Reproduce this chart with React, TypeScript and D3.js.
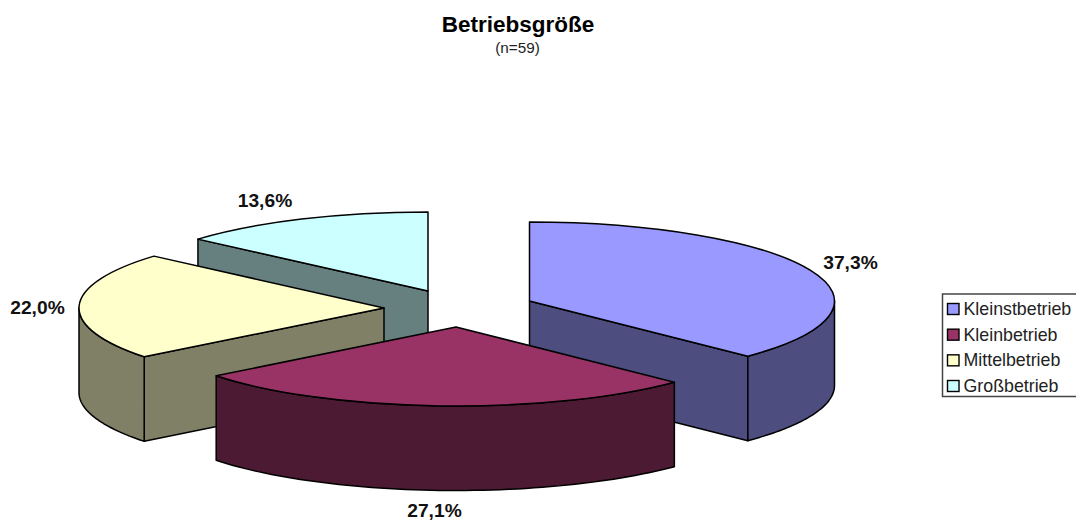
import React from "react";
import * as d3 from "d3";

const width = 1076;
const height = 523;

const categories = ["Kleinstbetrieb", "Kleinbetrieb", "Mittelbetrieb", "Großbetrieb"];
const shares = [37.3, 27.1, 22.0, 13.6];
const topColors = ["#9999FF", "#993366", "#FFFFCC", "#CCFFFF"];
const wallColors = ["#4D4D80", "#4D1A33", "#808066", "#668080"];

// exploded centre of every slice, same order as categories
const centerX = [529.5, 456, 384, 428];
const centerY = [301, 327, 308, 291];
const labelX = [850.5, 434.5, 37.5, 265];
const labelY = [269, 517, 314, 207];
const drawOrder = [3, 0, 2, 1]; // back to front

const rx = 305;
const ry = 79;
const depth = 84.5;
const font = "'Liberation Sans', Arial, sans-serif";

const pie = d3.pie<number>().sort(null).value((d) => d);
const arcs = pie(shares);
const arcPath = d3.arc<d3.PieArcDatum<number>>().innerRadius(0).outerRadius(rx);

const px = (i: number, a: number) => centerX[i] + rx * Math.sin(a);
const py = (i: number, a: number) => centerY[i] - ry * Math.cos(a);

const line = d3.line();

// curved outer wall, only the part that faces the viewer
const outerWall = (i: number) => {
  const a0 = Math.max(arcs[i].startAngle, Math.PI / 2);
  const a1 = Math.min(arcs[i].endAngle, (Math.PI * 3) / 2);
  if (a1 <= a0) return null;
  const steps = d3.range(0, 61).map((k) => a0 + ((a1 - a0) * k) / 60);
  const upper = steps.map((a) => [px(i, a), py(i, a)] as [number, number]);
  const lower = steps
    .slice()
    .reverse()
    .map((a) => [px(i, a), py(i, a) + depth] as [number, number]);
  return line([...upper, ...lower]) + "Z";
};

// flat cut wall between the centre and one rim point
const cutWall = (i: number, a: number) =>
  line([
    [centerX[i], centerY[i]],
    [px(i, a), py(i, a)],
    [px(i, a), py(i, a) + depth],
    [centerX[i], centerY[i] + depth],
  ]) + "Z";

// which cut face can be seen for every slice
const cutAngle = [arcs[0].endAngle, null, arcs[2].startAngle, arcs[3].startAngle];

const legendY = d3.scalePoint<string>().domain(categories).range([309, 386]);

export default function App() {
  return (
    <svg
      width={width}
      height={height}
      style={{ position: "absolute", left: 0, top: 0, background: "white" }}
      fontFamily={font}
    >
      <text x={518} y={32} textAnchor="middle" fontSize={22.5} fontWeight="bold" fill="#000">
        Betriebsgröße
      </text>
      <text x={517.5} y={53} textAnchor="middle" fontSize={15.3} fill="#222">
        (n=59)
      </text>

      {drawOrder.map((i) => {
        const cut = cutAngle[i];
        const outer = outerWall(i);
        return (
          <g key={categories[i]} stroke="#000" strokeWidth={1.5} strokeLinejoin="round">
            {cut !== null && <path d={cutWall(i, cut)} fill={wallColors[i]} />}
            {outer && <path d={outer} fill={wallColors[i]} />}
            <g transform={`translate(${centerX[i]},${centerY[i]}) scale(1,${ry / rx})`}>
              <path
                d={arcPath(arcs[i]) ?? ""}
                fill={topColors[i]}
                vectorEffect="non-scaling-stroke"
              />
            </g>
          </g>
        );
      })}

      {shares.map((s, i) => (
        <text
          key={i}
          x={labelX[i]}
          y={labelY[i]}
          textAnchor="middle"
          fontSize={19.2}
          fontWeight="bold"
          fill="#111"
        >
          {s.toFixed(1).replace(".", ",")}%
        </text>
      ))}

      {/* legend frame runs off the right edge of the picture */}
      <path d="M1076 294H942.5V396.5H1076" fill="#fff" stroke="#444" strokeWidth={1.5} />
      {categories.map((c, i) => (
        <g key={c}>
          <rect
            x={947.5}
            y={(legendY(c) ?? 0) - 5.5}
            width={11.5}
            height={11}
            fill={topColors[i]}
            stroke="#000"
            strokeWidth={1.4}
          />
          <text x={963.5} y={(legendY(c) ?? 0) + 6} fontSize={17.8} fill="#222">
            {c}
          </text>
        </g>
      ))}
    </svg>
  );
}
